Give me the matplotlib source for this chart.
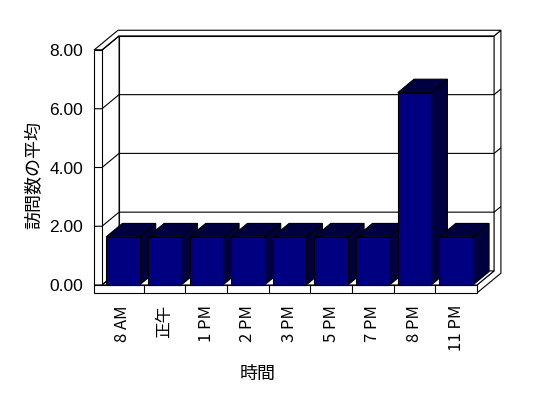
import matplotlib
matplotlib.use('Agg')
import matplotlib.pyplot as plt
from matplotlib.patches import Polygon

plt.rcParams['font.family'] = ['Liberation Sans', 'Noto Sans CJK JP']

categories = ['8 AM', '正午', '1 PM', '2 PM', '3 PM', '5 PM', '7 PM', '8 PM', '11 PM']
visits = [1.64, 1.64, 1.64, 1.64, 1.64, 1.64, 1.64, 6.55, 1.64]
yticks = [0, 2, 4, 6, 8]

# fake 3d look: depth offsets in data units
DX, DY = 0.41, 0.48       # front plane -> back wall
WX, FT = 0.19, 0.27       # wall / floor slab thickness
BT = 0.4                  # back wall thickness (fraction of depth)
BD = 0.95                 # bar depth
NAVY = '#000080'
DARK = '#000040'


def proj(x, y, z):
    return (x + DX * z, y + DY * z)


def face(ax, pts, fc='white', z=1):
    ax.add_patch(Polygon([proj(*p) for p in pts], closed=True, fc=fc,
                         ec='black', lw=0.8, clip_on=False, zorder=z))


def line(ax, pts, z=1.5):
    xy = [proj(*p) for p in pts]
    ax.plot([p[0] for p in xy], [p[1] for p in xy], color='black', lw=0.8,
            clip_on=False, zorder=z, solid_capstyle='butt')


fig = plt.figure(figsize=(5.48, 3.98), dpi=100)
ax = fig.add_axes([102 / 548, 113 / 398, 375 / 548, 235 / 398])
x0, x1 = -0.5, len(categories) - 0.5
ytop = yticks[-1]

# back wall
face(ax, [(x0, 0, 1), (x1, 0, 1), (x1, ytop, 1), (x0, ytop, 1)])
face(ax, [(x1, -FT, 0), (x1, 0, 0), (x1, 0, 1), (x1, ytop, 1),
          (x1, ytop, 1 + BT), (x1, -FT, 1 + BT)])
for v in yticks[1:-1]:
    line(ax, [(x0, v, 1), (x1, v, 1), (x1, v, 1 + BT)])

# left wall
face(ax, [(x0, 0, 0), (x0, 0, 1), (x0, ytop, 1), (x0, ytop, 0)])
face(ax, [(x0 - WX, 0, 0), (x0, 0, 0), (x0, ytop, 0), (x0 - WX, ytop, 0)])
face(ax, [(x0 - WX, ytop, 0), (x0, ytop, 0), (x0, ytop, 1), (x1, ytop, 1),
          (x1, ytop, 1 + BT), (x0 - WX, ytop, 1 + BT)])
for v in yticks:
    line(ax, [(x0 - WX, v, 0), (x0, v, 0), (x0, v, 1)])

# floor
face(ax, [(x0, 0, 0), (x1, 0, 0), (x1, 0, 1), (x0, 0, 1)])
face(ax, [(x0 - WX, -FT, 0), (x1, -FT, 0), (x1, 0, 0), (x0 - WX, 0, 0)])
for i in range(1, len(categories)):
    line(ax, [(i - 0.5, -FT, 0), (i - 0.5, 0, 0)])

# bars, left to right so each front hides the previous side
for i, v in enumerate(visits):
    xl, xr = i - 0.4, i + 0.4
    face(ax, [(xr, 0, 0), (xr, 0, BD), (xr, v, BD), (xr, v, 0)], DARK, 3)
    face(ax, [(xl, v, 0), (xr, v, 0), (xr, v, BD), (xl, v, BD)], DARK, 3)
    ax.bar([i], [v], width=0.8, color=NAVY, edgecolor='black', lw=0.8,
           zorder=3, clip_on=False)

ax.set_xlim(x0, x1)
ax.set_ylim(0, ytop)
ax.set_yticks(yticks)
ax.set_yticklabels(['%.2f' % v for v in yticks], fontsize=12.5)
ax.set_xticks(range(len(categories)))
ax.set_xticklabels(categories, rotation=90, fontsize=12,
                   family=['Liberation Sans Narrow', 'Noto Sans CJK JP'])
ax.tick_params(axis='y', length=0, pad=13.7)
ax.tick_params(axis='x', length=0, pad=14.4)
for s in ax.spines.values():
    s.set_visible(False)
ax.patch.set_visible(False)

ax.set_ylabel('訪問数の平均', fontsize=13)
ax.yaxis.set_label_coords(-0.157, 0.47)
ax.set_xlabel('時間', fontsize=13)
ax.xaxis.set_label_coords(0.416, -0.345)

fig.savefig('out.png', dpi=100)
